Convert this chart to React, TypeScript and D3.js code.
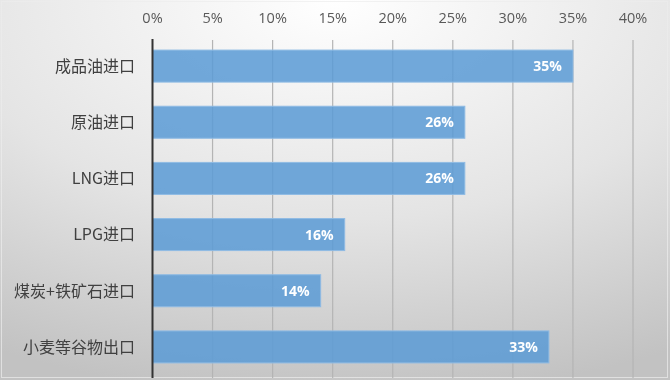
import React from "react";
import * as d3 from "d3";

const categories = ["成品油进口", "原油进口", "LNG进口", "LPG进口", "煤炭+铁矿石进口", "小麦等谷物出口"];
const values = [0.35, 0.26, 0.26, 0.16, 0.14, 0.33];
const ticks = [0, 0.05, 0.1, 0.15, 0.2, 0.25, 0.3, 0.35, 0.4];

const W = 670;
const H = 380;

export default function App() {
  const x = d3.scaleLinear().domain([0, 0.4]).range([152.5, 633]);
  const y = d3.scaleBand<string>().domain(categories).range([38, 375]).paddingInner(0.43).paddingOuter(0.215);
  const fmt = d3.format(".0%");
  const latin = "'Open Sans', 'Noto Sans', sans-serif";
  const cjk = "'Noto Sans CJK SC', 'Noto Sans', sans-serif";
  return (
    <svg width={W} height={H} style={{ position: "fixed", left: 0, top: 0 }}>
      <defs>
        <radialGradient id="bg" cx="50%" cy="0%" r="105%" fx="50%" fy="0%" gradientUnits="objectBoundingBox">
          <stop offset="0%" stopColor="#ffffff" />
          <stop offset="55%" stopColor="#e4e4e4" />
          <stop offset="100%" stopColor="#c2c2c2" />
        </radialGradient>
      </defs>
      <rect x={0} y={0} width={W} height={H} fill="url(#bg)" />
      <rect x={1.5} y={1.5} width={W - 4} height={H - 4} fill="none" stroke="#ececec" strokeOpacity={0.7} strokeWidth={1} />
      {ticks.map((t) => (
        <g key={t}>
          {t > 0 && <line x1={x(t)} x2={x(t)} y1={40} y2={378} stroke="#b4b4b4" strokeWidth={1.2} />}
          <text x={x(t)} y={22.5} textAnchor="middle" fontFamily={latin} fontSize={14.5} fill="#595959">
            {fmt(t)}
          </text>
        </g>
      ))}
      {categories.map((c, i) => (
        <g key={c}>
          <rect
            x={x(0)}
            y={y(c)!}
            width={x(values[i]) - x(0)}
            height={y.bandwidth()}
            fill="#5B9BD5"
            fillOpacity={0.86}
            stroke="#8fbbe4"
            strokeWidth={1}
          />
          <text
            x={x(values[i]) - 11}
            y={y(c)! + y.bandwidth() / 2}
            dy="0.36em"
            textAnchor="end"
            fontFamily={latin}
            fontWeight="bold"
            fontSize={14}
            fill="#ffffff"
          >
            {fmt(values[i])}
          </text>
          <text
            x={135}
            y={y(c)! + y.bandwidth() / 2}
            dy="0.36em"
            textAnchor="end"
            fontFamily={cjk}
            fontSize={16}
            fill="#404040"
          >
            {c}
          </text>
        </g>
      ))}
      <line x1={x(0)} x2={x(0)} y1={39} y2={378} stroke="#333333" strokeWidth={2} />
    </svg>
  );
}
